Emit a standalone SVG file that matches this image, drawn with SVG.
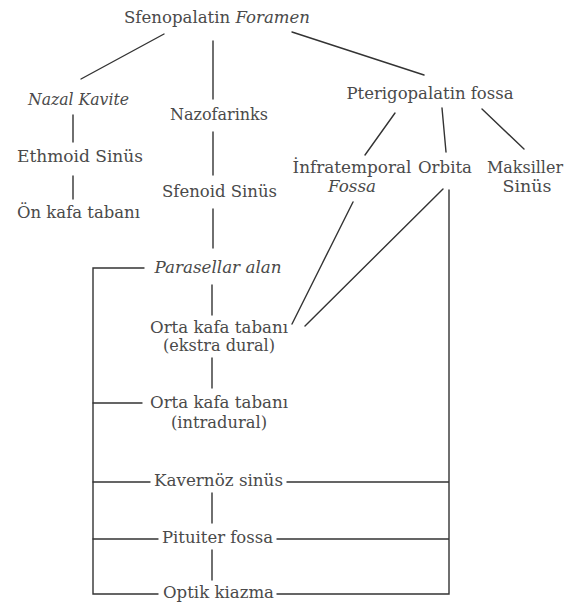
<svg xmlns="http://www.w3.org/2000/svg" width="575" height="605" viewBox="0 0 575 605">
<style>
text{font-family:"DejaVu Serif","Liberation Serif",serif;font-size:16px;fill:#4a4a4a;text-anchor:middle}
.i{font-style:italic}
.c line,.c path{stroke:#333;stroke-width:1.4;fill:none;stroke-linecap:round}
</style>
<rect width="575" height="605" fill="#fff"/>
<g class="c" id="connectors">
<line x1="164" y1="34" x2="81" y2="79"/>
<line x1="213" y1="41" x2="213" y2="99"/>
<line x1="292" y1="32" x2="424" y2="75"/>
<line x1="73" y1="115" x2="73" y2="142"/>
<line x1="73" y1="176" x2="73" y2="199"/>
<line x1="213" y1="132" x2="213" y2="175"/>
<line x1="213" y1="209" x2="213" y2="248"/>
<line x1="395" y1="113" x2="365" y2="155"/>
<line x1="442" y1="108" x2="446" y2="152"/>
<line x1="482" y1="109" x2="524" y2="149"/>
<line x1="353" y1="202" x2="292" y2="324"/>
<line x1="443" y1="189" x2="305" y2="326"/>
<line x1="212" y1="285" x2="212" y2="315"/>
<line x1="212" y1="358" x2="212" y2="388"/>
<line x1="212" y1="493" x2="212" y2="523"/>
<line x1="212" y1="550" x2="212" y2="580"/>
<path d="M144 268H93V594H158"/>
<line x1="93" y1="403" x2="142" y2="403"/>
<line x1="93" y1="482" x2="150" y2="482"/>
<line x1="93" y1="539" x2="158" y2="539"/>
<path d="M287 482H448M277 539H448M277 594H449V190"/>
</g>
<g id="n-sfenopalatin"><text x="217" y="23" textLength="186" lengthAdjust="spacingAndGlyphs">Sfenopalatin <tspan class="i">Foramen</tspan></text></g>
<g id="n-nazal"><text class="i" x="78.5" y="105" textLength="101" lengthAdjust="spacingAndGlyphs">Nazal Kavite</text></g>
<g id="n-nazofarinks"><text x="219" y="120" textLength="98" lengthAdjust="spacingAndGlyphs">Nazofarinks</text></g>
<g id="n-pterigo"><text x="430" y="99" textLength="167" lengthAdjust="spacingAndGlyphs">Pterigopalatin fossa</text></g>
<g id="n-ethmoid"><text x="80" y="162" textLength="126" lengthAdjust="spacingAndGlyphs">Ethmoid Sinüs</text></g>
<g id="n-sfenoid"><text x="219.5" y="197" textLength="115" lengthAdjust="spacingAndGlyphs">Sfenoid Sinüs</text></g>
<g id="n-onkafa"><text x="78.5" y="218" textLength="123" lengthAdjust="spacingAndGlyphs">Ön kafa tabanı</text></g>
<g id="n-infratemporal"><text x="352" y="173" textLength="119" lengthAdjust="spacingAndGlyphs">İnfratemporal</text><text class="i" x="352" y="192" textLength="48" lengthAdjust="spacingAndGlyphs">Fossa</text></g>
<g id="n-orbita"><text x="445" y="173" textLength="54" lengthAdjust="spacingAndGlyphs">Orbita</text></g>
<g id="n-maksiller"><text x="525" y="173" textLength="76" lengthAdjust="spacingAndGlyphs">Maksiller</text><text x="527" y="192" textLength="49" lengthAdjust="spacingAndGlyphs">Sinüs</text></g>
<g id="n-parasellar"><text class="i" x="218" y="273" textLength="127" lengthAdjust="spacingAndGlyphs">Parasellar alan</text></g>
<g id="n-orta-ekstra"><text x="219" y="333" textLength="138" lengthAdjust="spacingAndGlyphs">Orta kafa tabanı</text><text x="219" y="351" textLength="112" lengthAdjust="spacingAndGlyphs">(ekstra dural)</text></g>
<g id="n-orta-intra"><text x="219" y="408" textLength="138" lengthAdjust="spacingAndGlyphs">Orta kafa tabanı</text><text x="219" y="428" textLength="96" lengthAdjust="spacingAndGlyphs">(intradural)</text></g>
<g id="n-kavernoz"><text x="218.5" y="486" textLength="129" lengthAdjust="spacingAndGlyphs">Kavernöz sinüs</text></g>
<g id="n-pituiter"><text x="217.5" y="543" textLength="111" lengthAdjust="spacingAndGlyphs">Pituiter fossa</text></g>
<g id="n-optik"><text x="218.5" y="598" textLength="111" lengthAdjust="spacingAndGlyphs">Optik kiazma</text></g>
</svg>
